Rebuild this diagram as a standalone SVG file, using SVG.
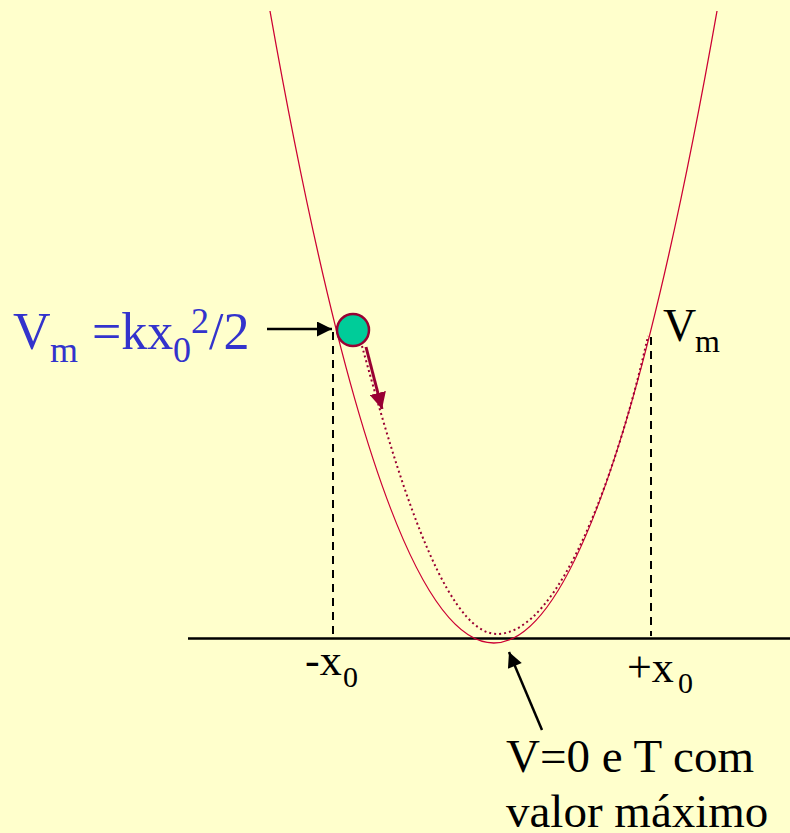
<svg xmlns="http://www.w3.org/2000/svg" width="790" height="833" viewBox="0 0 790 833">
<style>
text{font-family:"Liberation Serif","DejaVu Serif",serif;fill:#000}
.b{fill:#3333CC}
.curve{fill:none;stroke:#CC0033;stroke-width:1.3}
.dot{fill:none;stroke:#990033;stroke-width:2;stroke-dasharray:2 3}
.dash{stroke:#000;stroke-width:2;stroke-dasharray:8 6}
.blk{stroke:#000;stroke-width:2.5;fill:none}
</style>
<defs>
<marker id="ah" viewBox="0 0 10 10" refX="10" refY="5" markerWidth="7" markerHeight="6" markerUnits="strokeWidth" orient="auto"><path d="M0,0L10,5L0,10z" fill="#000"/></marker>
<marker id="ahr" viewBox="0 0 10 10" refX="10" refY="5" markerWidth="5.5" markerHeight="5.5" markerUnits="strokeWidth" orient="auto"><path d="M0,0L10,5L0,10z" fill="#990033"/></marker>
</defs>
<rect width="790" height="833" fill="#FFFFCC"/>
<g id="axis"><line x1="188" y1="638.5" x2="790" y2="638.5" stroke="#000" stroke-width="2.5"/></g>
<g id="parabola"><path class="curve" d="M270,11 Q494,1275 717,11"/></g>
<g id="path-dotted"><path class="dot" d="M362,346 C392,455 442,634 497,634 C560,634 618,470 648,336"/></g>
<g id="connectors">
<line class="dash" x1="333" y1="332" x2="333" y2="636"/>
<line class="dash" x1="651" y1="337" x2="651" y2="636"/>
<line class="blk" x1="267" y1="329" x2="332" y2="329" marker-end="url(#ah)"/>
<line class="blk" x1="542" y1="730" x2="509" y2="652" marker-end="url(#ah)"/>
<line x1="366" y1="347" x2="382" y2="409" stroke="#990033" stroke-width="3" marker-end="url(#ahr)"/>
</g>
<g id="ball"><circle cx="353" cy="330" r="16" fill="#00CC99" stroke="#990033" stroke-width="2.5"/></g>
<g id="label-vm-left" font-family="Liberation Serif, serif">
<text class="b" font-size="52" x="13" y="349">V</text>
<text class="b" font-size="36" x="50" y="362">m</text>
<text class="b" font-size="52" x="92" y="349">=kx</text>
<text class="b" font-size="36" x="173" y="362">0</text>
<text class="b" font-size="36" x="191" y="333">2</text>
<text class="b" font-size="52" x="209" y="349">/2</text>
</g>
<g id="label-vm-right">
<text font-size="46" x="663" y="341">V</text>
<text font-size="32" x="695" y="352">m</text>
</g>
<g id="label-minus-x0">
<text font-size="44" x="305" y="675">-x</text>
<text font-size="30" x="343" y="687">0</text>
</g>
<g id="label-plus-x0">
<text font-size="44" x="627" y="682">+x</text>
<text font-size="30" x="678" y="693">0</text>
</g>
<g id="label-bottom">
<text font-size="47" x="506" y="772">V=0 e T com</text>
<text font-size="47" x="506" y="827">valor máximo</text>
</g>
</svg>
